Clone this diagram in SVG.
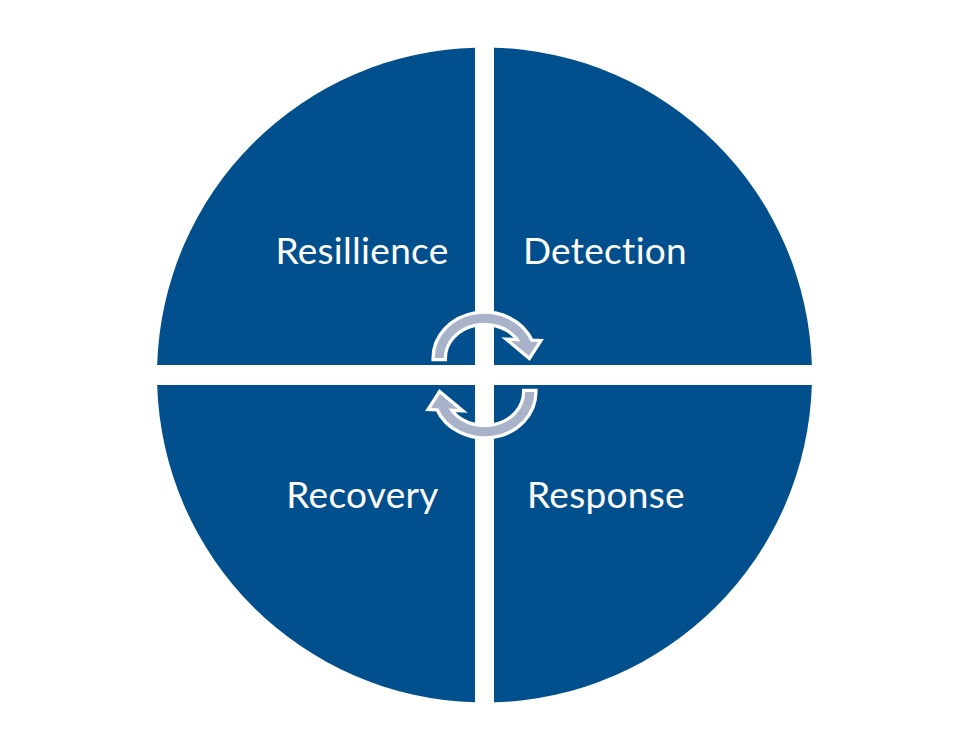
<svg xmlns="http://www.w3.org/2000/svg" width="968" height="749" viewBox="0 0 968 749">
<style>
.q{fill:#024F8E;}
.lbl{font-family:Lato,"Open Sans","Liberation Sans",sans-serif;font-size:37px;letter-spacing:0.3px;fill:#FFFFFF;text-anchor:middle;}
.arr{fill:#A8B2C9;stroke:#FFFFFF;stroke-width:6.6;stroke-linejoin:miter;stroke-miterlimit:4;paint-order:stroke;}
</style>
<rect width="968" height="749" fill="#FFFFFF"/>
<g id="resilience">
<path class="q" d="M475,365 L157.15,365 A327.5,327.5 0 0 1 475,47.64 Z"/>
<text class="lbl" x="362" y="264">Resillience</text>
</g>
<g id="detection">
<path class="q" d="M494,365 L494,47.64 A327.5,327.5 0 0 1 811.85,365 Z"/>
<text class="lbl" x="605" y="264">Detection</text>
</g>
<g id="recovery">
<path class="q" d="M475,385 L475,702.36 A327.5,327.5 0 0 1 157.15,385 Z"/>
<text class="lbl" x="362.5" y="508">Recovery</text>
</g>
<g id="response">
<path class="q" d="M494,385 L811.85,385 A327.5,327.5 0 0 1 494,702.36 Z"/>
<text class="lbl" x="606" y="508">Response</text>
</g>
<g id="connectors">
<path id="arrow-top" class="arr" d="M443.75,358 L434.75,358 A49.75,44.25 0 0 1 530.8,341.7 L538,342 L529,356 L511,341 L520.5,341.5 A40.75,35.25 0 0 0 443.75,358 Z"/>
<path id="arrow-bottom" class="arr" transform="rotate(180 484.5 375)" d="M443.75,358 L434.75,358 A49.75,44.25 0 0 1 530.8,341.7 L538,342 L529,356 L511,341 L520.5,341.5 A40.75,35.25 0 0 0 443.75,358 Z"/>
</g>
</svg>
